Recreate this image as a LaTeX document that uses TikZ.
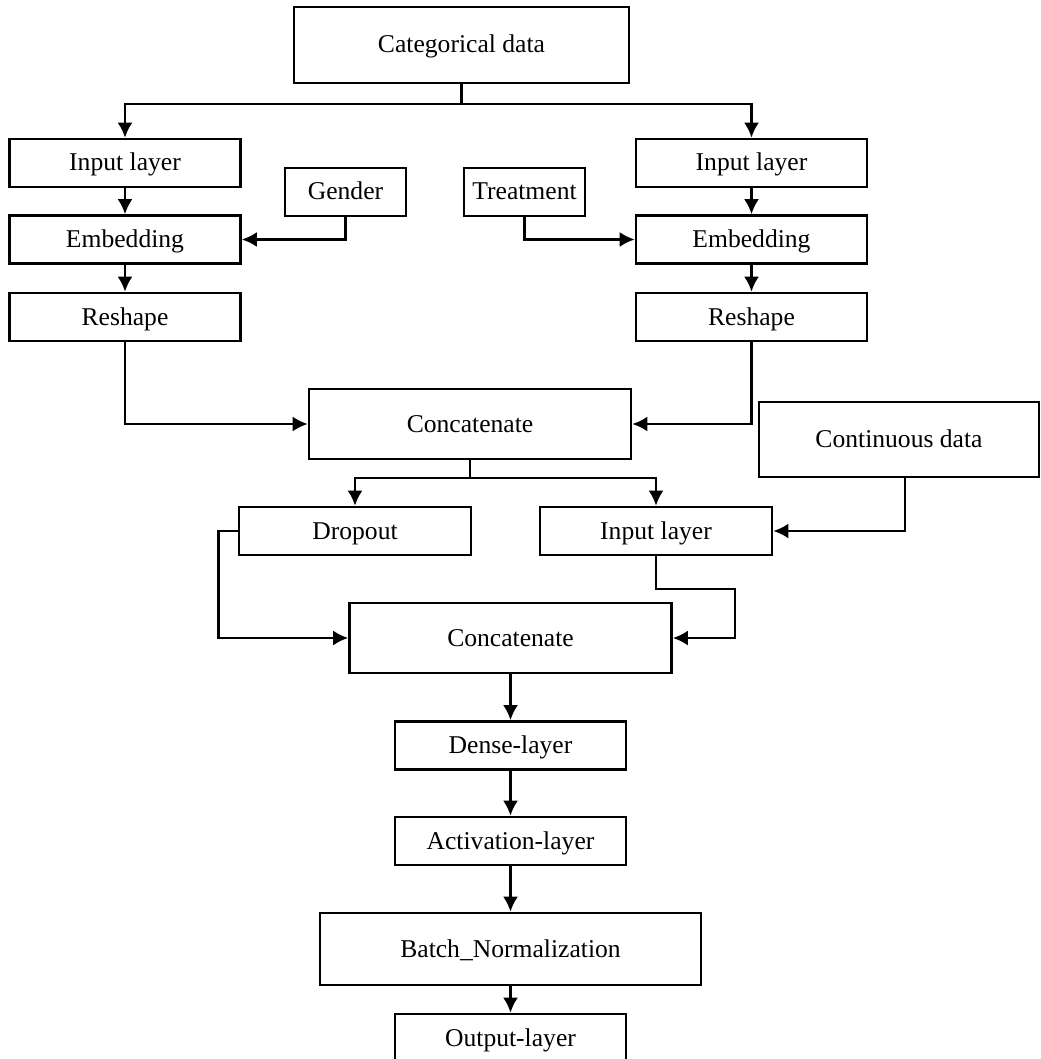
\documentclass[tikz,border=0pt]{standalone}
\usepackage{fontspec}
\setmainfont{Liberation Serif}
\usetikzlibrary{arrows.meta}

\begin{document}
\begin{tikzpicture}[x=0.5pt, y=-0.5pt,
    box/.style={draw, line width=1.3pt, inner sep=1pt, minimum width=115.5pt, minimum height=24pt, text height=10pt, text depth=2pt, font=\fontsize{12.8}{15}\selectfont},
    arr/.style={line width=1.3pt, -{Latex[length=7.5pt, width=7.5pt]}},
    ln/.style={line width=1.3pt}]
      \useasboundingbox (0,0) rectangle (1040,1059);

      % categorical branch
      \node[box, minimum width=167.5pt, minimum height=38pt] (cat) at (461.5,45) {Categorical data};
      \node[box] (inL) at (125,163) {Input layer};
      \node[box] (inR) at (751.5,163) {Input layer};
      \node[box, minimum width=60.5pt] (gender) at (345.5,192) {Gender};
      \node[box, minimum width=60.5pt] (treat) at (524.5,192) {Treatment};
      \node[box] (embL) at (125,239.5) {Embedding};
      \node[box] (embR) at (751.5,239.5) {Embedding};
      \node[box] (resL) at (125,317) {Reshape};
      \node[box] (resR) at (751.5,317) {Reshape};
      \node[box, minimum width=161pt, minimum height=35pt] (conc1) at (470,424) {Concatenate};

      % continuous branch
      \node[box, minimum width=140pt, minimum height=37.5pt] (cont) at (899,439.5) {Continuous data};
      \node[box, minimum width=116pt] (drop) at (355,531) {Dropout};
      \node[box, minimum width=116pt] (inM) at (656,531) {Input layer};
      \node[box, minimum width=161pt, minimum height=35pt] (conc2) at (510.5,638) {Concatenate};

      % head
      \node[box] (dense) at (510.5,745.5) {Dense-layer};
      \node[box] (act) at (510.5,841) {Activation-layer};
      \node[box, minimum width=190.5pt, minimum height=36pt] (batch) at (510.5,949) {Batch\_Normalization};
      \node[box] (out) at (510.5,1038) {Output-layer};

      \coordinate (split1) at (461.5,104);
      \coordinate (split2) at (470,478);
      \coordinate (inbend) at (735,589);

      \draw[ln] (cat.south) -- (split1);
      \draw[arr] (split1) -| (inL.north);
      \draw[arr] (split1) -| (inR.north);
      \draw[arr] (inL) -- (embL);
      \draw[arr] (inR) -- (embR);
      \draw[arr] (gender.south) |- (embL.east);
      \draw[arr] (treat.south) |- (embR.west);
      \draw[arr] (embL) -- (resL);
      \draw[arr] (embR) -- (resR);
      \draw[arr] (resL.south) |- (conc1.west);
      \draw[arr] (resR.south) |- (conc1.east);

      \draw[ln] (conc1.south) -- (split2);
      \draw[arr] (split2) -| (drop.north);
      \draw[arr] (split2) -| (inM.north);
      \draw[arr] ([xshift=3pt]cont.south) |- (inM.east);
      \draw[arr] (drop.west) -- ++(-19,0) |- (conc2.west);
      \draw[arr] (inM.south) |- (inbend) |- (conc2.east);

      \draw[arr] (conc2) -- (dense);
      \draw[arr] (dense) -- (act);
      \draw[arr] (act) -- (batch);
      \draw[arr] (batch) -- (out);
    \end{tikzpicture}
\end{document}
